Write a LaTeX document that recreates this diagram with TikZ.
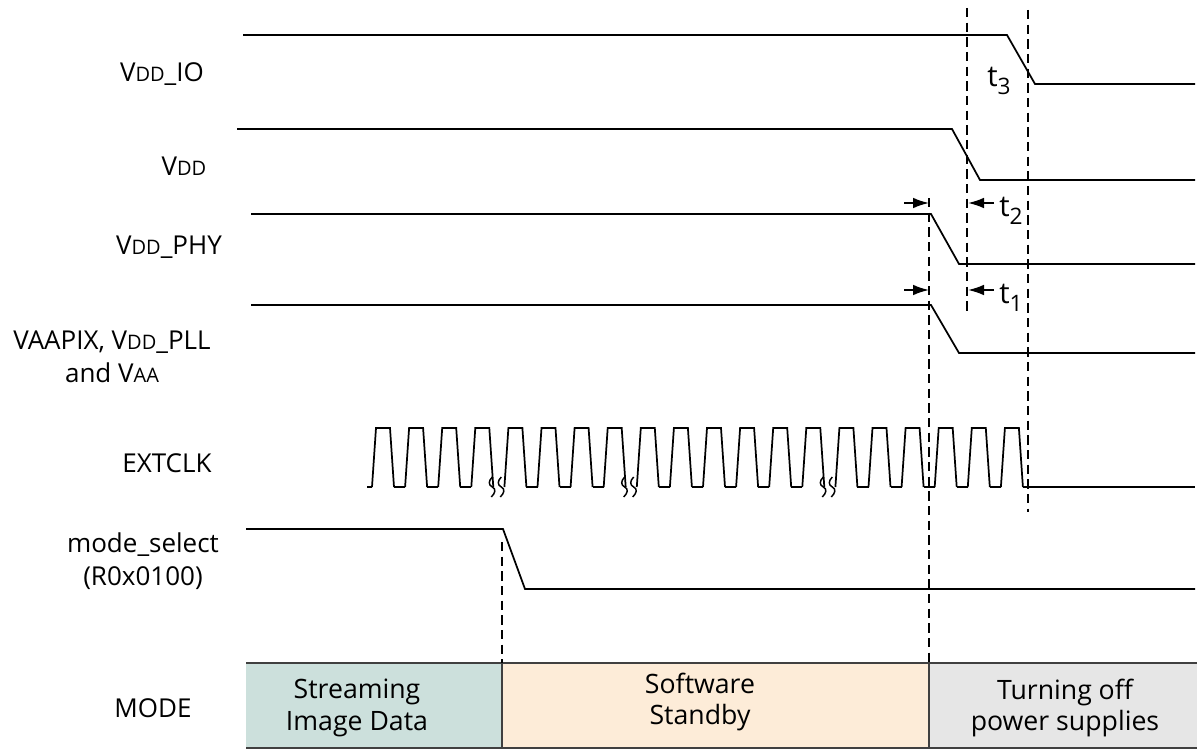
\documentclass[tikz,border=0pt]{standalone}
\usepackage{fontspec}
\setmainfont{Open Sans}
\usetikzlibrary{arrows.meta}
\newcommand\lo[1]{{\fontsize{15}{15}\selectfont #1}}
\newcommand\tsub[2]{#1\raisebox{-0.5ex}{\fontsize{17}{17}\selectfont #2}}
\definecolor{streamfill}{RGB}{204,224,220}
\definecolor{standbyfill}{RGB}{253,236,216}
\definecolor{offfill}{RGB}{230,230,230}
\definecolor{boxline}{RGB}{64,64,64}
\tikzset{
  wave/.style={line width=1.3pt, line join=miter},
  guide/.style={line width=1.1pt, dash pattern=on 7pt off 4pt},
  gap/.style={line width=1.3pt, -{Latex[length=12pt,width=8pt]}},
  squig/.style={line width=1.1pt},
  sig/.style={font=\fontsize{19.5}{25}\selectfont, align=center, inner sep=0pt},
  tlab/.style={font=\fontsize{22}{24}\selectfont, inner sep=0pt},
  phase/.style={font=\fontsize{20}{23.5}\selectfont, align=center, inner sep=0pt}
}
\begin{document}
\begin{tikzpicture}[x=0.75pt,y=-0.75pt]
\useasboundingbox (0,0) rectangle (1197,749);

% mode bar
\fill[streamfill] (246,663) rectangle (502,748);
\fill[standbyfill] (502,663) rectangle (929,748);
\fill[offfill] (929,663) rectangle (1197,748);
\draw[boxline, line width=1.3pt] (246,663) -- (1197,663) (246,748) -- (1197,748)
  (502,663) -- (502,748) (929,663) -- (929,748);
\node[phase] (stream) at (357,708) {Streaming\\Image Data};
\node[phase] (standby) at (700,702) {Software\\Standby};
\node[phase] (off) at (1065,708) {Turning off\\power supplies};

% signal names
\node[sig] (nio) at (162,74) {V\lo{DD}\_IO};
\node[sig] (ncore) at (184,166) {V\lo{DD}};
\node[sig] (nphy) at (169,247) {V\lo{DD}\_PHY};
\node[sig] (nana) at (112,357) {VAAPIX, V\lo{DD}\_PLL\\and V\lo{AA}};
\node[sig] (nclk) at (167,463) {EXTCLK};
\node[sig] (nmode) at (143,561) {mode\_select\\(R0x0100)};
\node[sig] (nbar) at (153,708) {MODE};

% supply waveforms
\draw[wave] (243,35) -- (1007,35) -- (1035,84) -- (1195,84);
\draw[wave] (237,129) -- (952,129) -- (980,180) -- (1195,180);
\draw[wave] (251,214) -- (931,214) -- (959,264) -- (1195,264);
\draw[wave] (251,305) -- (931,305) -- (959,353) -- (1195,353);
\draw[wave] (246,529) -- (503,529) -- (525,589) -- (1195,589);

% external clock
\draw[wave] (367,487) -- (372,487);
\foreach \i in {0,...,19}{
  \pgfmathsetmacro\xa{376+33.1*\i}
  \draw[wave] (\xa-4,487) -- (\xa,428) -- (\xa+14,428) -- (\xa+18,487);
}
\foreach \i in {0,1,2,4,5,6,8,9,10,11,12,14,15,16,17,18}{
  \pgfmathsetmacro\xa{376+33.1*\i}
  \draw[wave] (\xa+18,487) -- (\xa+29.1,487);
}
\draw[wave] (1022.9,487) -- (1195,487);
\foreach \i in {3,7,13}{
  \pgfmathsetmacro\xa{376+33.1*\i}
  \foreach \d in {17,26}{
    \draw[squig] (\xa+\d,477) .. controls (\xa+\d-4,481) and (\xa+\d-4,485) .. (\xa+\d,487)
      .. controls (\xa+\d+4,489) and (\xa+\d+3,493) .. (\xa+\d-1,497);
  }
}

% timing guides
\draw[guide] (967,8) -- (967,313);
\draw[guide] (1028,10) -- (1028,512);
\draw[guide] (929,198) -- (929,663);
\draw[guide] (502,542) -- (502,663);

% delay markers
\coordinate (a2) at (904,203); \coordinate (b2) at (929,203);
\coordinate (c2) at (994,203); \coordinate (d2) at (968,203);
\coordinate (a1) at (904,290); \coordinate (b1) at (929,290);
\coordinate (c1) at (994,290); \coordinate (d1) at (968,290);
\draw[gap] (a2) -- (b2);
\draw[gap] (c2) -- (d2);
\draw[gap] (a1) -- (b1);
\draw[gap] (c1) -- (d1);
\node[tlab] (t3) at (999,81) {\tsub{t}{3}};
\node[tlab] (t2) at (1011,211) {\tsub{t}{2}};
\node[tlab] (t1) at (1011,298) {\tsub{t}{1}};
\end{tikzpicture}
\end{document}
